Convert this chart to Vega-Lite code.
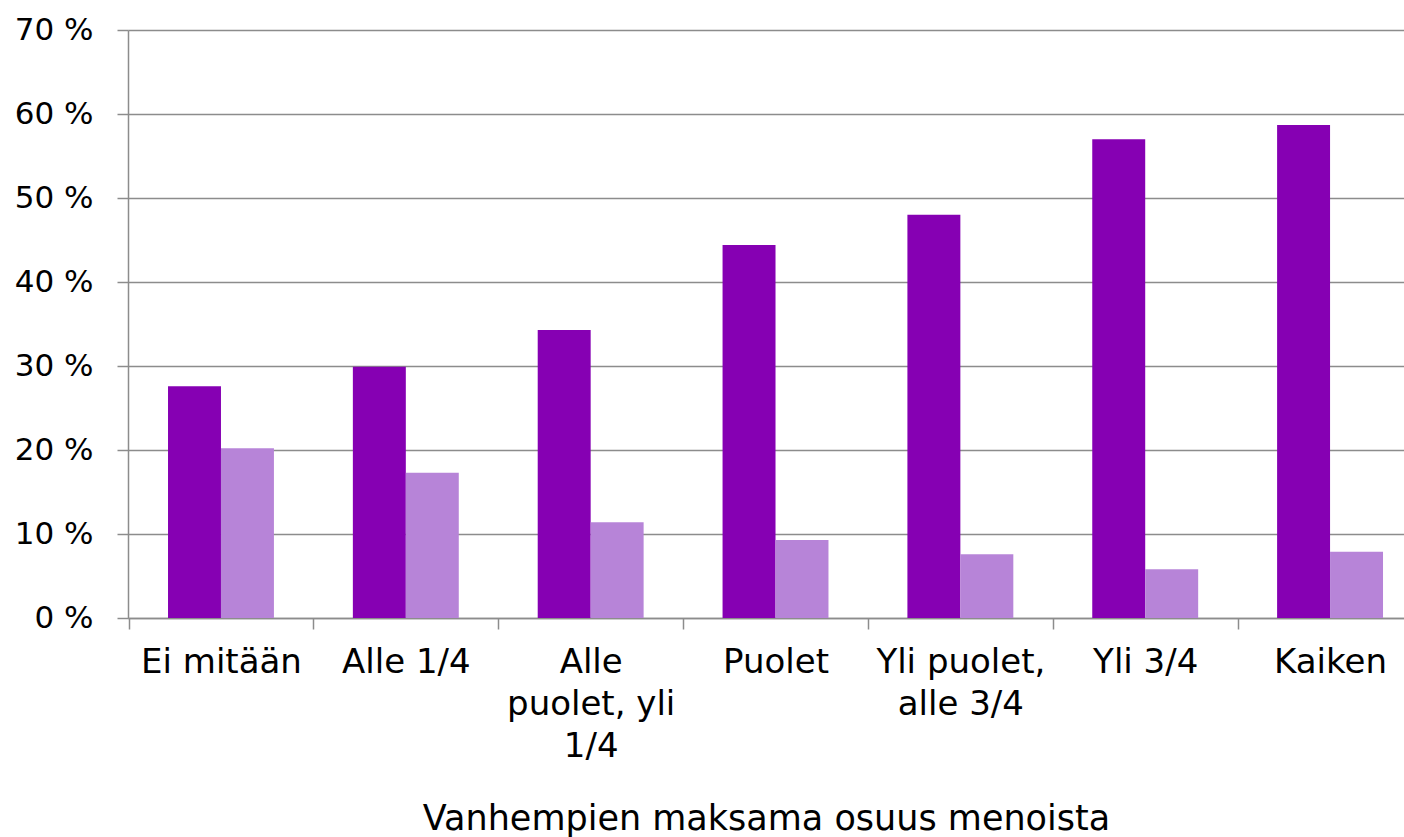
{
  "$schema": "https://vega.github.io/schema/vega-lite/v6.json",
  "width": 1276,
  "height": 588,
  "autosize": {"type": "none"},
  "padding": {"left": 128, "top": 30, "right": 0, "bottom": 219},
  "background": "white",
  "config": {
    "font": "DejaVu Sans",
    "view": {"stroke": null}
  },
  "data": {
    "values": [
      {"kategoria": "Ei mitään", "sarja": "Sarja 1", "osuus": 27.6},
      {"kategoria": "Ei mitään", "sarja": "Sarja 2", "osuus": 20.2},
      {"kategoria": "Alle 1/4", "sarja": "Sarja 1", "osuus": 29.9},
      {"kategoria": "Alle 1/4", "sarja": "Sarja 2", "osuus": 17.3},
      {"kategoria": "Alle|puolet, yli|1/4", "sarja": "Sarja 1", "osuus": 34.3},
      {"kategoria": "Alle|puolet, yli|1/4", "sarja": "Sarja 2", "osuus": 11.4},
      {"kategoria": "Puolet", "sarja": "Sarja 1", "osuus": 44.4},
      {"kategoria": "Puolet", "sarja": "Sarja 2", "osuus": 9.3},
      {"kategoria": "Yli puolet,|alle 3/4", "sarja": "Sarja 1", "osuus": 48.0},
      {"kategoria": "Yli puolet,|alle 3/4", "sarja": "Sarja 2", "osuus": 7.6},
      {"kategoria": "Yli 3/4", "sarja": "Sarja 1", "osuus": 57.0},
      {"kategoria": "Yli 3/4", "sarja": "Sarja 2", "osuus": 5.8},
      {"kategoria": "Kaiken", "sarja": "Sarja 1", "osuus": 58.7},
      {"kategoria": "Kaiken", "sarja": "Sarja 2", "osuus": 7.9}
    ]
  },
  "mark": {"type": "bar"},
  "encoding": {
    "x": {
      "field": "kategoria",
      "type": "nominal",
      "sort": null,
      "scale": {"paddingInner": 0.427, "paddingOuter": 0.165, "align": 0.656},
      "axis": {
        "title": "Vanhempien maksama osuus menoista",
        "titleFont": "DejaVu Sans",
        "titleFontSize": 35,
        "titleFontWeight": "normal",
        "titleColor": "#000000",
        "titlePadding": 38,
        "labelExpr": "split(datum.label, '|')",
        "labelAngle": 0,
        "labelFontSize": 34,
        "labelColor": "#000000",
        "labelLineHeight": 42,
        "labelPadding": 16,
        "labelLimit": 400,
        "labelBaseline": "top",
        "tickOffset": -92.4,
        "labelOffset": 92.4,
        "tickSize": 11,
        "tickColor": "#8c8c8c",
        "tickWidth": 1.5,
        "domainColor": "#8c8c8c",
        "domainWidth": 1.5,
        "grid": false
      }
    },
    "xOffset": {
      "field": "sarja",
      "type": "nominal",
      "sort": null,
      "scale": {"paddingInner": 0, "paddingOuter": 0}
    },
    "y": {
      "field": "osuus",
      "type": "quantitative",
      "scale": {"domain": [0, 70], "nice": false},
      "axis": {
        "title": null,
        "values": [0, 10, 20, 30, 40, 50, 60, 70],
        "labelExpr": "datum.value + ' %'",
        "labelFontSize": 31,
        "labelColor": "#000000",
        "labelPadding": 24,
        "tickSize": 11,
        "tickColor": "#8c8c8c",
        "tickWidth": 1.5,
        "domainColor": "#8c8c8c",
        "domainWidth": 1.5,
        "grid": true,
        "gridColor": "#8c8c8c",
        "gridWidth": 1.5
      }
    },
    "color": {
      "field": "sarja",
      "type": "nominal",
      "scale": {"range": ["#8600b3", "#b784d8"]},
      "legend": null
    }
  }
}
